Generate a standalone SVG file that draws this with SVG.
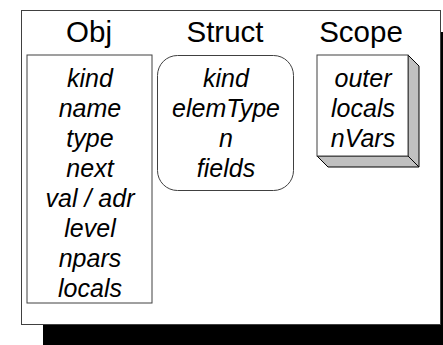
<svg xmlns="http://www.w3.org/2000/svg" width="443" height="345" viewBox="0 0 443 345">
<style>
.title{font-family:"Liberation Sans",Arial,sans-serif;font-size:29.5px;text-anchor:middle;fill:#000}
.item{font-family:"Liberation Sans",Arial,sans-serif;font-size:25px;font-style:italic;text-anchor:middle;fill:#000}
.box{fill:#fff;stroke:#404040;stroke-width:1}
</style>
<rect width="443" height="345" fill="#fff"/>
<g id="frame">
<rect x="43" y="32" width="420" height="315" fill="#000"/>
<rect x="21.5" y="10.5" width="419" height="314" fill="#fff" stroke="#404040" stroke-width="1"/>
</g>
<g id="titles">
<text class="title" x="89" y="42">Obj</text>
<text class="title" x="225" y="42">Struct</text>
<text class="title" x="361" y="42">Scope</text>
</g>
<g id="obj">
<rect class="box" x="27" y="55" width="125" height="248"/>
<text class="item" x="90" y="87">kind</text>
<text class="item" x="90" y="117">name</text>
<text class="item" x="90" y="147">type</text>
<text class="item" x="90" y="177">next</text>
<text class="item" x="90" y="207">val / adr</text>
<text class="item" x="90" y="237">level</text>
<text class="item" x="90" y="267">npars</text>
<text class="item" x="90" y="297">locals</text>
</g>
<g id="struct">
<rect class="box" x="157.5" y="55.5" width="136" height="135" rx="20" ry="20"/>
<text class="item" x="226" y="87">kind</text>
<text class="item" x="226" y="117">elemType</text>
<text class="item" x="226" y="147">n</text>
<text class="item" x="226" y="177">fields</text>
</g>
<g id="scope">
<polygon points="408,55 419,66 419,167 328,167 317,156 408,156" fill="#c0c0c0" stroke="#000" stroke-width="1"/>
<line x1="408" y1="156" x2="419" y2="167" stroke="#000" stroke-width="1"/>
<rect class="box" x="317" y="55" width="91" height="101" stroke="#000"/>
<text class="item" x="363" y="87">outer</text>
<text class="item" x="363" y="117">locals</text>
<text class="item" x="363" y="147">nVars</text>
</g>
</svg>
